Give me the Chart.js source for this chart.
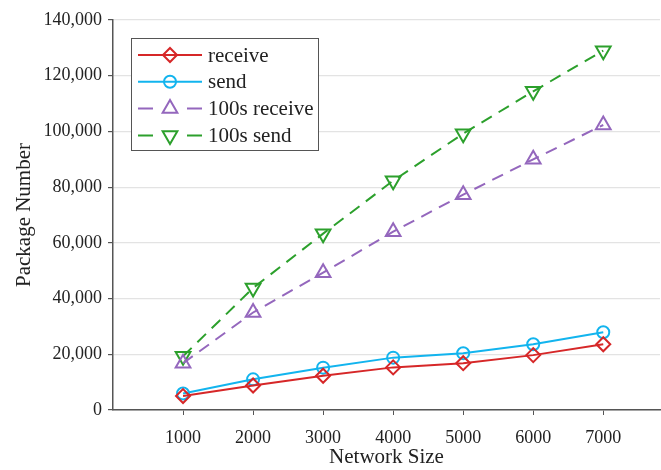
<!DOCTYPE html>
<html>
<head>
<meta charset="utf-8">
<script src="https://cdn.jsdelivr.net/npm/chart.js@4/dist/chart.umd.min.js"></script>
<style>
  html, body { margin: 0; padding: 0; background: #fff; }
  #wrap { width: 661px; height: 470px; }
</style>
</head>
<body>
<div id="wrap"><canvas id="c" width="661" height="470"></canvas></div>
<script>
const networkSizes = [1000, 2000, 3000, 4000, 5000, 6000, 7000];
const receive = [5000, 8800, 12300, 15300, 16800, 19700, 23600];
const send = [5900, 11000, 15200, 18800, 20400, 23600, 27900];
const receive100s = [16800, 35000, 49300, 64000, 77300, 90000, 102300];
const send100s = [19300, 43800, 63300, 82300, 99200, 114400, 129000];
const yTicks = [0, 20000, 40000, 60000, 80000, 100000, 120000, 140000];

const serif = "'Liberation Serif', 'DejaVu Serif', serif";
const textColor = "#222";
const axisColor = "#555";

function series(label, values, color, style, radius, rotation, dash) {
  return {
    label: label,
    data: values.map((v, i) => ({ x: networkSizes[i], y: v })),
    borderColor: color,
    borderWidth: 2,
    borderDash: dash,
    pointStyle: style,
    pointRadius: radius,
    pointRotation: rotation,
    pointBorderColor: color,
    pointBackgroundColor: "rgba(0,0,0,0)",
    pointBorderWidth: 2,
    tension: 0
  };
}

// legend drawn by hand so each entry shows line + marker, like the original
const boxLegend = {
  id: "boxLegend",
  afterDraw(chart) {
    const ctx = chart.ctx;
    const x0 = 131.5, y0 = 38.5, w = 187, h = 112;
    ctx.save();
    ctx.fillStyle = "#fff";
    ctx.fillRect(x0, y0, w, h);
    ctx.strokeStyle = "#555";
    ctx.lineWidth = 1;
    ctx.strokeRect(x0, y0, w, h);
    chart.data.datasets.forEach((ds, i) => {
      const y = 55 + i * 26.8;
      ctx.strokeStyle = ds.borderColor;
      ctx.lineWidth = 2;
      ctx.beginPath();
      if (ds.borderDash && ds.borderDash.length) {
        ctx.moveTo(138, y); ctx.lineTo(153, y);
        ctx.moveTo(187, y); ctx.lineTo(202, y);
      } else {
        ctx.moveTo(138, y); ctx.lineTo(202, y);
      }
      ctx.stroke();
      ctx.fillStyle = "rgba(0,0,0,0)";
      Chart.helpers.drawPoint(ctx, {
        pointStyle: ds.pointStyle,
        radius: ds.pointRadius,
        rotation: ds.pointRotation,
        borderWidth: 2
      }, 170, y);
      ctx.fillStyle = textColor;
      ctx.font = "21px " + serif;
      ctx.textBaseline = "middle";
      ctx.textAlign = "left";
      ctx.fillText(ds.label, 208, y + 1);
    });
    ctx.restore();
  }
};

new Chart(document.getElementById("c"), {
  type: "line",
  data: {
    datasets: [
      series("receive", receive, "#d62728", "rectRot", 7, 0, []),
      series("send", send, "#12b4ee", "circle", 6, 0, []),
      series("100s receive", receive100s, "#9467bd", "triangle", 8.5, 0, [12, 8]),
      series("100s send", send100s, "#2ca02c", "triangle", 8.5, 180, [12, 8])
    ]
  },
  options: {
    responsive: false,
    animation: false,
    layout: { autoPadding: false, padding: { top: 20, right: 1, left: 0, bottom: 0 } },
    plugins: { legend: { display: false }, tooltip: { enabled: false } },
    scales: {
      x: {
        type: "linear",
        min: 0,
        max: 7810,
        afterBuildTicks: axis => { axis.ticks = networkSizes.map(v => ({ value: v })); },
        afterFit: axis => { axis.height = 60; axis.paddingLeft = 0; axis.paddingRight = 0; },
        grid: { drawOnChartArea: false, drawTicks: true, tickLength: 5, tickColor: axisColor },
        border: { color: axisColor, width: 1.5 },
        ticks: { color: textColor, font: { family: serif, size: 18 }, padding: 12, maxRotation: 0, callback: v => String(v) },
        title: { display: true, text: "Network Size", color: textColor, font: { family: serif, size: 21 }, padding: { top: 0, bottom: 0 } }
      },
      y: {
        min: 0,
        max: 140000,
        afterBuildTicks: axis => { axis.ticks = yTicks.map(v => ({ value: v })); },
        afterFit: axis => { axis.width = 113; },
        grid: { color: "#e3e3e3", lineWidth: 1.2, drawTicks: true, tickLength: 5, tickColor: axisColor },
        border: { color: axisColor, width: 1.5 },
        ticks: {
          color: textColor,
          font: { family: serif, size: 18 },
          padding: 6,
          callback: v => v.toLocaleString("en-US")
        },
        title: { display: true, text: "Package Number", color: textColor, font: { family: serif, size: 21 }, padding: { top: 12, bottom: 0 } }
      }
    }
  },
  plugins: [boxLegend]
});
</script>
</body>
</html>
